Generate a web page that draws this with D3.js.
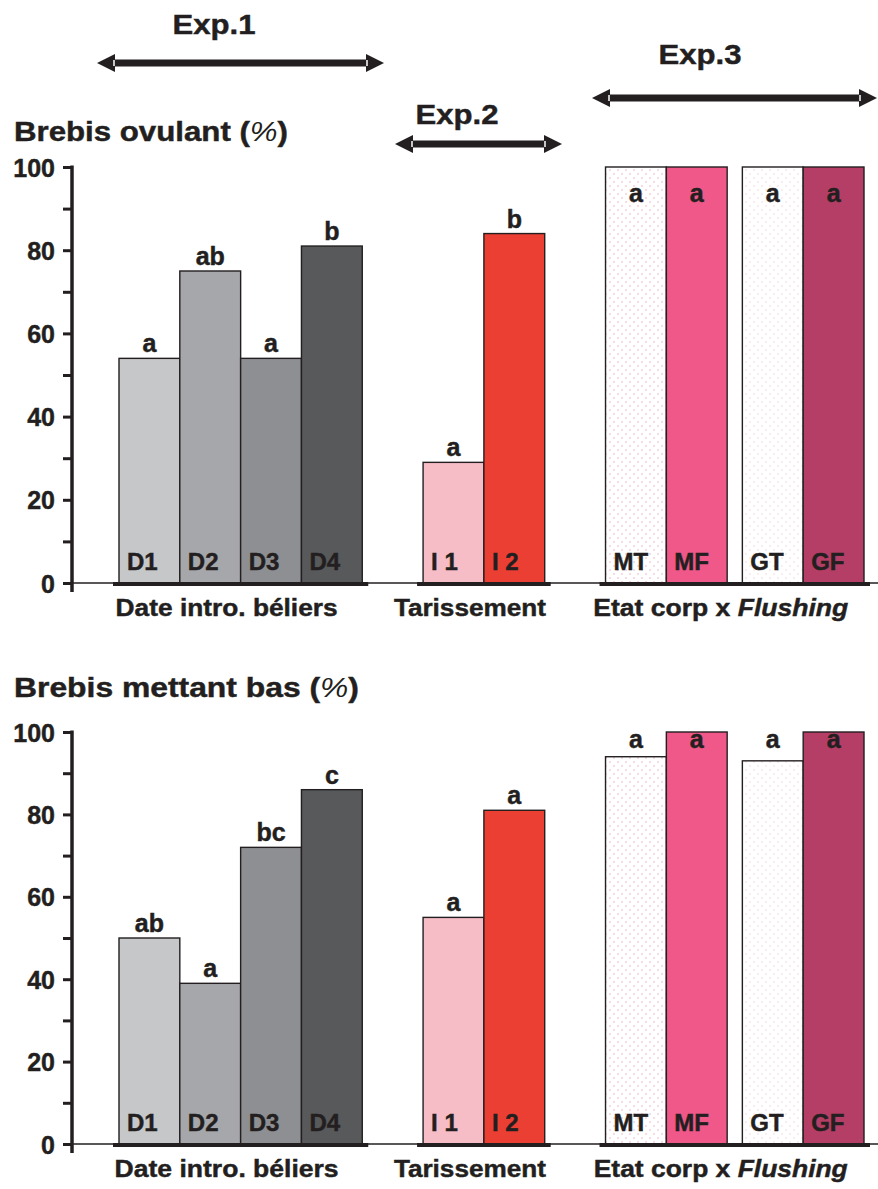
<!DOCTYPE html>
<html>
<head>
<meta charset="utf-8">
<script src="https://cdn.jsdelivr.net/npm/d3@7"></script>
<style>
  html, body { margin: 0; padding: 0; background: #fff; }
  svg { display: block; }
  text { font-family: "Liberation Sans", Arial, Helvetica, sans-serif; font-weight: bold; fill: #231f20;
         stroke: #231f20; stroke-width: 0.45px; }
</style>
</head>
<body>
<div id="chart"></div>
<script>
// ---------------- DATA ----------------
const categories = ["D1", "D2", "D3", "D4", "I 1", "I 2", "MT", "MF", "GT", "GF"];
const groupNames = ["Date intro. béliers", "Tarissement", "Etat corp x Flushing"];
const categoryGroup = [0, 0, 0, 0, 1, 1, 2, 2, 2, 2];
const categoryPair  = [0, 0, 0, 0, 1, 1, 2, 2, 3, 3];

const ovulantValues  = [54, 75, 54, 81, 29, 84, 100, 100, 100, 100];
const ovulantLetters = ["a", "ab", "a", "b", "a", "b", "a", "a", "a", "a"];

const basValues  = [50, 39, 72, 86, 55, 81, 94, 100, 93, 100];
const basLetters = ["ab", "a", "bc", "c", "a", "a", "a", "a", "a", "a"];

const yTickValues = [0, 20, 40, 60, 80, 100];
const yMinorTicks = [0, 10, 20, 30, 40, 50, 60, 70, 80, 90, 100];

const experiments = ["Exp.1", "Exp.2", "Exp.3"];

// ---------------- STYLE ----------------
const barFills = ["#c6c7c9", "#a6a7aa", "#8e8f93", "#58595b", "#f7bdc6", "#ec3f34",
                  "url(#dotsM)", "#ef5889", "url(#dotsG)", "#b43e65"];
const ink = "#231f20";

const W = 878, H = 1189;
const svg = d3.select("#chart").append("svg").attr("width", W).attr("height", H);

// patterns
const defs = svg.append("defs");
function crossPattern(id, color, op) {
  const p = defs.append("pattern").attr("id", id).attr("patternUnits", "userSpaceOnUse")
    .attr("width", 8).attr("height", 8);
  p.append("rect").attr("width", 8).attr("height", 8).attr("fill", "#fff");
  [[2, 2], [6, 6]].forEach(([cx, cy]) => {
    p.append("path").attr("d", `M${cx-1},${cy-1}L${cx+1},${cy+1}M${cx+1},${cy-1}L${cx-1},${cy+1}`)
      .attr("stroke", color).attr("stroke-width", 0.7).attr("opacity", op);
  });
}
crossPattern("dotsM", "#eaa3b8", 0.55);
crossPattern("dotsG", "#eaa3b8", 0.3);

// slot layout computed from grouping
const slots = [];
let u = 0;
categories.forEach((c, i) => {
  if (i > 0) {
    if (categoryGroup[i] !== categoryGroup[i - 1]) u += 1;
    else if (categoryPair[i] !== categoryPair[i - 1]) u += 0.25;
  }
  slots.push(u);
  u += 1;
});
const x = d3.scaleLinear().domain([0, u]).range([119, 864]);
const bw = x(1) - x(0);

// ---------------- ANNOTATIONS (Exp arrows) ----------------
function arrow(x1, x2, y) {
  const g = svg.append("g");
  const hl = 18, hh = 9;
  g.append("line").attr("x1", x1 + hl).attr("x2", x2 - hl).attr("y1", y).attr("y2", y)
    .attr("stroke", ink).attr("stroke-width", 7);
  g.append("path").attr("d", `M${x1},${y}L${x1 + hl},${y - hh}L${x1 + hl},${y + hh}Z`).attr("fill", ink);
  g.append("path").attr("d", `M${x2},${y}L${x2 - hl},${y - hh}L${x2 - hl},${y + hh}Z`).attr("fill", ink);
  g.append("line").attr("x1", x1 + hl - 1).attr("x2", x1 + hl - 1).attr("y1", y - 3).attr("y2", y + 3)
    .attr("stroke", "#fff").attr("stroke-width", 1.5);
  g.append("line").attr("x1", x2 - hl + 1).attr("x2", x2 - hl + 1).attr("y1", y - 3).attr("y2", y + 3)
    .attr("stroke", "#fff").attr("stroke-width", 1.5);
}
const expLayout = [
  { cx: 214, ty: 34, x1: 97, x2: 384, ay: 63 },
  { cx: 457, ty: 124, x1: 395, x2: 562, ay: 144 },
  { cx: 700, ty: 64, x1: 592, x2: 877, ay: 98 }
];
experiments.forEach((e, i) => {
  const L = expLayout[i];
  svg.append("text").attr("x", L.cx).attr("y", L.ty).attr("text-anchor", "middle")
    .attr("font-size", 28).attr("textLength", 83).attr("lengthAdjust", "spacingAndGlyphs").text(e);
  arrow(L.x1, L.x2, L.ay);
});

// ---------------- PANELS ----------------
function panel(cfg) {
  const y = d3.scaleLinear().domain([0, 100]).range([cfg.y0, cfg.y100]);
  const g = svg.append("g");

  // title
  const t = g.append("text").attr("x", 14).attr("y", cfg.titleY).attr("font-size", 27)
    .attr("textLength", cfg.titleW).attr("lengthAdjust", "spacingAndGlyphs");
  t.append("tspan").text(cfg.title + " (");
  t.append("tspan").attr("font-weight", "normal").attr("font-style", "italic")
    .attr("stroke-width", 0).text("%");
  t.append("tspan").text(")");

  // thin baseline
  g.append("line").attr("x1", 63).attr("x2", W).attr("y1", y(0)).attr("y2", y(0))
    .attr("stroke", ink).attr("stroke-width", 1.6);

  // y axis
  const axis = d3.axisLeft(y).tickValues(yMinorTicks).tickSize(9).tickSizeOuter(0)
    .tickFormat(d => yTickValues.includes(d) ? d : "");
  const ag = g.append("g").attr("transform", "translate(72,0)").call(axis);
  ag.select(".domain").remove();
  ag.selectAll(".tick line").attr("stroke", ink).attr("stroke-width", 3);
  ag.selectAll(".tick text").attr("x", -17).attr("dy", "0.36em").attr("font-size", 25)
    .attr("font-family", "Liberation Sans, Arial, sans-serif").attr("font-weight", "bold").attr("fill", ink);
  g.append("line").attr("x1", 72).attr("x2", 72).attr("y1", y(100) - 1.5).attr("y2", y(0) + 9)
    .attr("stroke", ink).attr("stroke-width", 3.5);

  // bars
  const idx = d3.range(categories.length);
  g.selectAll("rect.bar").data(idx).join("rect").attr("class", "bar")
    .attr("x", i => x(slots[i])).attr("width", bw)
    .attr("y", i => y(cfg.values[i])).attr("height", i => y(0) - y(cfg.values[i]))
    .attr("fill", i => barFills[i]).attr("stroke", ink).attr("stroke-width", 1.4);

  // group thick baselines + labels
  groupNames.forEach((name, gi) => {
    const members = idx.filter(i => categoryGroup[i] === gi);
    const xa = x(slots[members[0]]), xb = x(slots[members[members.length - 1]]) + bw;
    g.append("line").attr("x1", xa - 6).attr("x2", xb + 6).attr("y1", y(0) + 1).attr("y2", y(0) + 1)
      .attr("stroke", ink).attr("stroke-width", 4);
    const lt = g.append("text").attr("x", (xa + xb) / 2 - 14).attr("y", y(0) + 33).attr("text-anchor", "middle")
      .attr("font-size", 24).attr("textLength", cfg.groupW[gi]).attr("lengthAdjust", "spacingAndGlyphs");
    if (name === "Etat corp x Flushing") {
      lt.append("tspan").text("Etat corp x ");
      lt.append("tspan").attr("font-style", "italic").text("Flushing");
    } else {
      lt.text(name);
    }
  });

  // category labels inside bars
  g.selectAll("text.cat").data(idx).join("text").attr("class", "cat")
    .attr("x", i => x(slots[i]) + 8).attr("y", y(0) - 13).attr("font-size", 24)
    .attr("fill", i => i === 3 ? "#333335" : ink)
    .attr("stroke", i => i === 3 ? "#333335" : ink)
    .text(i => categories[i]);

  // significance letters
  g.selectAll("text.sig").data(idx).join("text").attr("class", "sig")
    .attr("x", i => x(slots[i]) + bw / 2).attr("text-anchor", "middle").attr("font-size", 25)
    .attr("y", i => categoryGroup[i] === 2 ? y(100) + cfg.exp3LetterOffset : y(cfg.values[i]) - 6)
    .text(i => cfg.letters[i]);
}

panel({ title: "Brebis ovulant", titleY: 141, titleW: 274, y0: 583, y100: 167,
        values: ovulantValues, letters: ovulantLetters, exp3LetterOffset: 35,
        groupW: [222, 152, 255] });
panel({ title: "Brebis mettant bas", titleY: 697, titleW: 345, y0: 1144, y100: 732,
        values: basValues, letters: basLetters, exp3LetterOffset: 16,
        groupW: [224, 152, 254] });
</script>
</body>
</html>
